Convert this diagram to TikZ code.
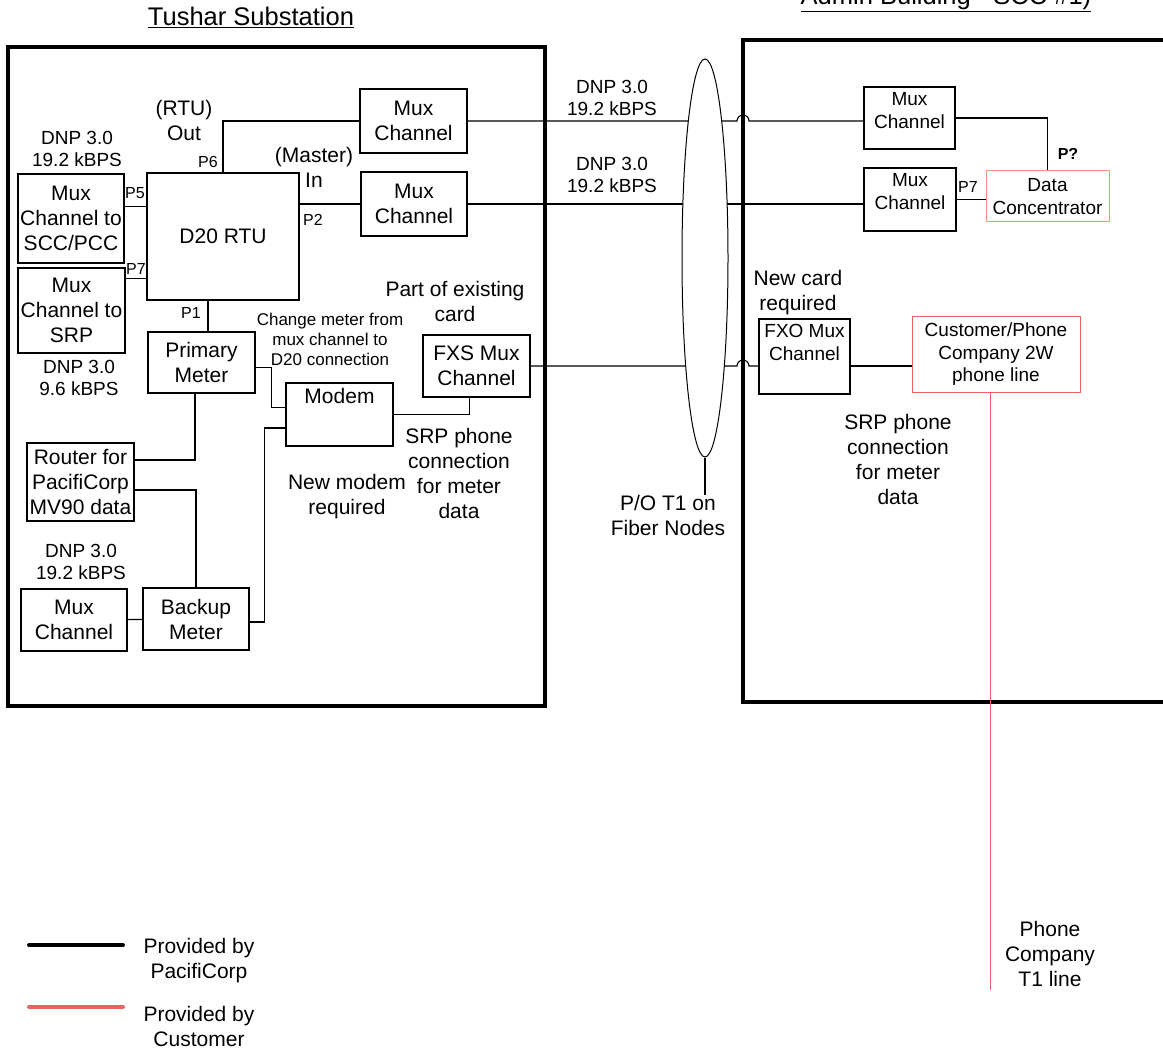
\documentclass[tikz,border=0pt]{standalone}
\usepackage{fontspec}
\setmainfont{Liberation Sans}
\usetikzlibrary{%
  shapes.geometric,% ellipse
  positioning,%
  calc,%
}

\definecolor{custred}{RGB}{236,100,96}
\definecolor{concorange}{RGB}{240,150,120}

\newcommand{\ftitle}{\fontsize{25.5}{30}\selectfont}
\newcommand{\fbig}{\fontsize{21}{25}\selectfont}
\newcommand{\fmid}{\fontsize{19}{22.5}\selectfont}
\newcommand{\fnote}{\fontsize{17}{20}\selectfont}
\newcommand{\fport}{\fontsize{16}{18}\selectfont}

\tikzset{%
  frame/.style={line width=4pt},%
  box/.style={draw, line width=1.3pt, align=center, inner sep=1pt, font=\fbig},%
  rbox/.style={box, font=\fmid},%
  custbox/.style={rbox, draw=custred, line width=1pt},%
  wire/.style={line width=1.1pt},%
  custwire/.style={draw=custred, line width=1pt},%
  lbl/.style={align=center, inner sep=0pt, font=\fbig},%
  dnp/.style={lbl, font=\fmid},%
  port/.style={inner sep=0pt, font=\fport},%
  ltop/.style={label={[anchor=north, inner sep=6pt, align=center, font=\fbig]north:#1}},%
  rtop/.style={label={[anchor=north, inner sep=6pt, align=center, font=\fmid]north:#1}},%
}

\begin{document}
\begin{tikzpicture}[x=1pt, y=-1pt]
        \path[use as bounding box, fill=white] (0,0) rectangle (1163,1051);

        % Tushar Substation / Admin building
        \draw[frame] (8,47) rectangle (545,706);
        \draw[frame] (743,40) rectangle (1180,702);

        \node[box, minimum width=107pt, minimum height=64pt] (muxA) at (413.5,121) {Mux\\Channel};
        \node[box, minimum width=106pt, minimum height=64pt] (muxB) at (414,204) {Mux\\Channel};
        \node[box, minimum width=152pt, minimum height=127pt] (rtu) at (223,236.5) {D20 RTU};
        \node[box, minimum width=106pt, minimum height=89pt] (scc) at (71,218.5) {Mux\\Channel to\\SCC/PCC};
        \node[box, minimum width=107pt, minimum height=85pt] (srp) at (71.5,310.5) {Mux\\Channel to\\SRP};
        \node[box, minimum width=107pt, minimum height=61pt] (primary) at (201.5,362.5) {Primary\\Meter};
        \node[box, minimum width=107pt, minimum height=62pt] (fxs) at (476.5,366) {FXS Mux\\Channel};
        \node[box, minimum width=107pt, minimum height=63pt, ltop=Modem] (modem) at (339.5,414.5) {};
        \node[box, minimum width=107pt, minimum height=78pt] (router) at (80.5,482) {Router for\\PacifiCorp\\MV90 data};
        \node[box, minimum width=106pt, minimum height=62pt] (muxC) at (74,620) {Mux\\Channel};
        \node[box, minimum width=106pt, minimum height=62pt] (backup) at (196,619) {Backup\\Meter};

        \node[rbox, minimum width=91pt, minimum height=62pt, rtop={Mux\\Channel}] (muxR1) at (909.5,118) {};
        \node[rbox, minimum width=92pt, minimum height=63pt, rtop={Mux\\Channel}] (muxR2) at (910,199.5) {};
        \node[rbox, draw=concorange, line width=1pt, minimum width=123pt, minimum height=51pt] (conc) at (1047.5,196.5) {Data\\Concentrator};
        \node[rbox, minimum width=91pt, minimum height=75pt, rtop={FXO Mux\\Channel}] (fxo) at (804.5,356.5) {};
        \node[custbox, minimum width=168pt, minimum height=75pt] (cust) at (996,354.5) {Customer/Phone\\Company 2W\\phone line};

        % wiring in the substation
        \draw[wire] (rtu.north) |- (muxA.west);
        \draw[wire] (rtu.east |- muxB.west) -- (muxB.west);
        \draw[wire] ([yshift=12pt]scc.east) -- ([yshift=12pt]scc.east -| rtu.west);
        \draw[wire] ([yshift=32pt]srp.east) -- ([yshift=32pt]srp.east -| rtu.west);
        \draw[wire] ([xshift=6.5pt]primary.north) -- ([xshift=6.5pt]primary.north |- rtu.south);
        \draw[wire] ([yshift=-5pt]primary.east) -- ++(16,0) |- ([yshift=7pt]modem.west);
        \draw[wire] ([xshift=-6.5pt]primary.south) |- ([yshift=22pt]router.east);
        \draw[wire] ([yshift=-8pt]router.east) -| (backup.north);
        \draw[wire] (muxC) -- (backup);
        \draw[wire] ([yshift=-3pt]backup.east) -- ++(15,0) |- ([yshift=-13.5pt]modem.west);
        \draw[wire] (modem.east) -| ([xshift=-7pt]fxs.south);

        % T1 links
        \coordinate (hopx) at (737,0);
        \draw[wire] (muxA.east) -- (muxA.east -| hopx) arc[start angle=180, end angle=0, radius=6pt] -- (muxR1.west |- muxA.east);
        \draw[wire] (muxB.east) -- (muxR2.west |- muxB.east);
        \draw[wire] (fxs.east) -- (fxs.east -| hopx) arc[start angle=180, end angle=0, radius=6pt] -- (fxo.west |- fxs.east);

        \draw[wire] (muxR1.east) -| (conc.north);
        \draw[wire] (muxR2.east) -- (muxR2.east -| conc.west);
        \draw[wire] (fxo.east |- fxs.east) -- (cust.west |- fxs.east);

        \node[draw, fill=white, ellipse, line width=1pt, inner sep=0pt, minimum width=46pt, minimum height=398pt] (fiber) at (705,258) {};
        \node[lbl] (po) at (668,515) {P/O T1 on\\Fiber Nodes};
        \draw[wire] (fiber.south) -- (fiber.south |- po.north);

        \coordinate (t1end) at (990,990);
        \draw[custwire] (t1end |- cust.south) -- (t1end);

        % labels
        \node[lbl, font=\ftitle, anchor=base] (tushar) at (251,26) {\underline{Tushar Substation}};
        \node[lbl, font=\ftitle, anchor=base] (admin) at (946,5) {\underline{Admin Building - SCC \#1)}};
        \node[lbl] (rtuout) at (184,120) {(RTU)\\Out};
        \node[dnp] (dnpscc) at (77,149) {DNP 3.0\\19.2 kBPS};
        \node[port] (p6) at (208,162) {P6};
        \node[lbl] (master) at (314,167) {(Master)\\In};
        \node[port] (p5) at (135,193) {P5};
        \node[port] (p2) at (313,220) {P2};
        \node[port] (p7) at (136,269) {P7};
        \node[port] (p1) at (191,313) {P1};
        \node[lbl] (existing) at (455,301) {Part of existing\\card};
        \node[lbl, font=\fnote] (change) at (330,339) {Change meter from\\mux channel to\\D20 connection};
        \node[dnp] (dnpsrp) at (79,378) {DNP 3.0\\9.6 kBPS};
        \node[lbl] (srpA) at (459,473) {SRP phone\\connection\\for meter\\data};
        \node[lbl] (newmodem) at (347,497) {New modem\\required};
        \node[dnp] (dnpmux) at (81,562) {DNP 3.0\\19.2 kBPS};
        \node[dnp] (dnpA) at (612,98) {DNP 3.0\\19.2 kBPS};
        \node[dnp] (dnpB) at (612,175) {DNP 3.0\\19.2 kBPS};
        \node[port, font=\fport\bfseries] (pq) at (1068,154) {P?};
        \node[port] (p7r) at (968,187) {P7};
        \node[lbl] (newcard) at (798,293) {New card\\required};
        \node[lbl] (srpB) at (898,459) {SRP phone\\connection\\for meter\\data};
        \node[lbl] (phoneco) at (1050,954) {Phone\\Company\\T1 line};

        % legend
        \draw[line width=4pt, line cap=round] (29,945) -- (123,945);
        \draw[line width=4pt, line cap=round, custred] (29,1007) -- (123,1007);
        \node[lbl] (legpac) at (199,961) {Provided by\\PacifiCorp};
        \node[lbl] (legcust) at (199,1026) {Provided by\\Customer};
    \end{tikzpicture}
\end{document}
